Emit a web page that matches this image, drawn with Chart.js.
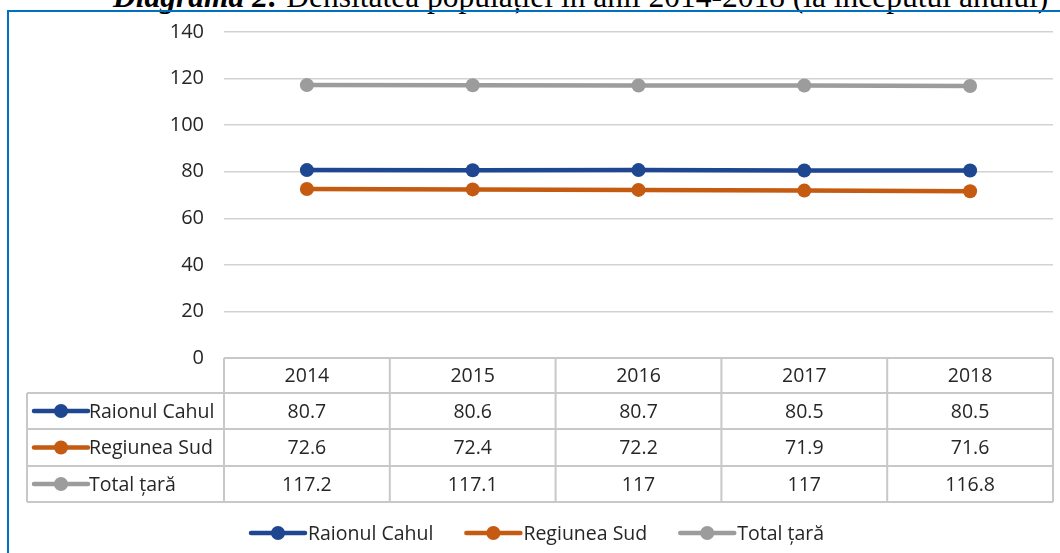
<!DOCTYPE html>
<html>
<head>
<meta charset="utf-8">
<script src="https://cdn.jsdelivr.net/npm/chart.js@4/dist/chart.umd.min.js"></script>
<style>
  html, body { margin: 0; padding: 0; background: #fff; }
  #wrap { position: relative; width: 1060px; height: 553px; overflow: hidden; }
  #title { position: absolute; left: 113px; top: -19px; white-space: nowrap; line-height: 32px;
           font-family: "Liberation Serif", "DejaVu Serif", serif; font-size: 31.5px; color: #000; }
  #title b { font-style: italic; }
  #frame { position: absolute; left: 7px; top: 10px; width: 1100px; height: 600px;
           border-left: 2px solid #0070C0; border-top: 2px solid #0070C0; }
  canvas { position: absolute; left: 0; top: 0; }
</style>
</head>
<body>
<div id="wrap">
  <div id="title"><b>Diagrama 2:</b> Densitatea populației în anii 2014-2018 (la începutul anului)</div>
  <div id="frame"></div>
  <canvas id="c" width="1060" height="553"></canvas>
</div>
<script>
const categories = ['2014', '2015', '2016', '2017', '2018'];
const raionulCahul = [80.7, 80.6, 80.7, 80.5, 80.5];
const regiuneaSud = [72.6, 72.4, 72.2, 71.9, 71.6];
const totalTara = [117.2, 117.1, 117, 117, 116.8];
const seriesNames = ['Raionul Cahul', 'Regiunea Sud', 'Total țară'];
const seriesColors = ['#1F4690', '#C55A11', '#9C9C9C'];
const yMin = 0, yMax = 140, yStep = 20;

const FONT = '"Open Sans", Lato, sans-serif';
const TEXT = '#262626';
const GRID = '#D2D2D2';
const TABLE_LINE = '#C8C8C8';

function drawKey(ctx, x, y, color) {
  ctx.save();
  ctx.strokeStyle = color;
  ctx.lineWidth = 4.5;
  ctx.lineCap = 'round';
  ctx.beginPath();
  ctx.moveTo(x, y);
  ctx.lineTo(x + 54, y);
  ctx.stroke();
  ctx.fillStyle = color;
  ctx.beginPath();
  ctx.arc(x + 27, y, 7, 0, Math.PI * 2);
  ctx.fill();
  ctx.restore();
}

const tablePlugin = {
  id: 'dataTable',
  afterDraw(chart) {
    const ctx = chart.ctx;
    const area = chart.chartArea;
    const xs = chart.scales.x;
    const n = categories.length;
    const colW = (area.right - area.left) / n;
    const top = area.bottom;
    const rowH = [35, 36, 37, 36];
    const rowsY = [top];
    rowH.forEach(h => rowsY.push(rowsY[rowsY.length - 1] + h));
    const leftEdge = 27;
    const series = [raionulCahul, regiuneaSud, totalTara];

    ctx.save();
    ctx.strokeStyle = TABLE_LINE;
    ctx.lineWidth = 2;
    ctx.beginPath();
    ctx.moveTo(area.left, rowsY[0]); ctx.lineTo(area.right, rowsY[0]);
    for (let r = 1; r < rowsY.length; r++) {
      ctx.moveTo(leftEdge, rowsY[r]); ctx.lineTo(area.right, rowsY[r]);
    }
    for (let c = 0; c <= n; c++) {
      const x = area.left + c * colW;
      ctx.moveTo(x, rowsY[0]); ctx.lineTo(x, rowsY[rowsY.length - 1]);
    }
    ctx.moveTo(leftEdge, rowsY[1]); ctx.lineTo(leftEdge, rowsY[rowsY.length - 1]);
    ctx.stroke();

    ctx.fillStyle = TEXT;
    ctx.font = '19.5px ' + FONT;
    ctx.textBaseline = 'middle';
    ctx.textAlign = 'center';
    categories.forEach((cat, i) => {
      const x = xs.getPixelForValue(i);
      ctx.fillText(cat, x, (rowsY[0] + rowsY[1]) / 2 + 1);
      series.forEach((s, k) => {
        ctx.fillText(String(s[i]), x, (rowsY[k + 1] + rowsY[k + 2]) / 2 + 1);
      });
    });
    seriesNames.forEach((name, k) => {
      const y = (rowsY[k + 1] + rowsY[k + 2]) / 2;
      drawKey(ctx, 34, y, seriesColors[k]);
      ctx.fillStyle = TEXT;
      ctx.textAlign = 'left';
      ctx.fillText(name, 89, y + 1);
    });

    // bottom legend
    const ly = 533;
    const widths = seriesNames.map(nm => ctx.measureText(nm).width);
    const gap = 33;
    let lx = 251;
    seriesNames.forEach((name, k) => {
      drawKey(ctx, lx, ly, seriesColors[k]);
      ctx.fillStyle = TEXT;
      ctx.textAlign = 'left';
      ctx.fillText(name, lx + 57, ly + 1);
      lx += 57 + widths[k] + gap;
    });
    ctx.restore();
  }
};

new Chart(document.getElementById('c'), {
  type: 'line',
  data: {
    labels: categories,
    datasets: [
      { label: seriesNames[0], data: raionulCahul },
      { label: seriesNames[1], data: regiuneaSud },
      { label: seriesNames[2], data: totalTara }
    ].map((d, k) => Object.assign(d, {
      borderColor: seriesColors[k],
      backgroundColor: seriesColors[k],
      borderWidth: 4.5,
      pointRadius: 7,
      pointHoverRadius: 7,
      pointBorderWidth: 0,
      tension: 0
    }))
  },
  options: {
    responsive: false,
    animation: false,
    layout: { padding: { left: 0, right: 2, top: 30, bottom: 195 } },
    plugins: { legend: { display: false }, tooltip: { enabled: false }, title: { display: false } },
    scales: {
      x: { display: false, offset: true },
      y: {
        min: yMin, max: yMax,
        ticks: { stepSize: yStep, color: TEXT, font: { family: FONT, size: 20 }, padding: 20 },
        grid: { color: GRID, lineWidth: 1.5, drawTicks: false },
        border: { display: false },
        afterFit(scale) { scale.width = 224; }
      }
    }
  },
  plugins: [tablePlugin]
});
</script>
</body>
</html>
